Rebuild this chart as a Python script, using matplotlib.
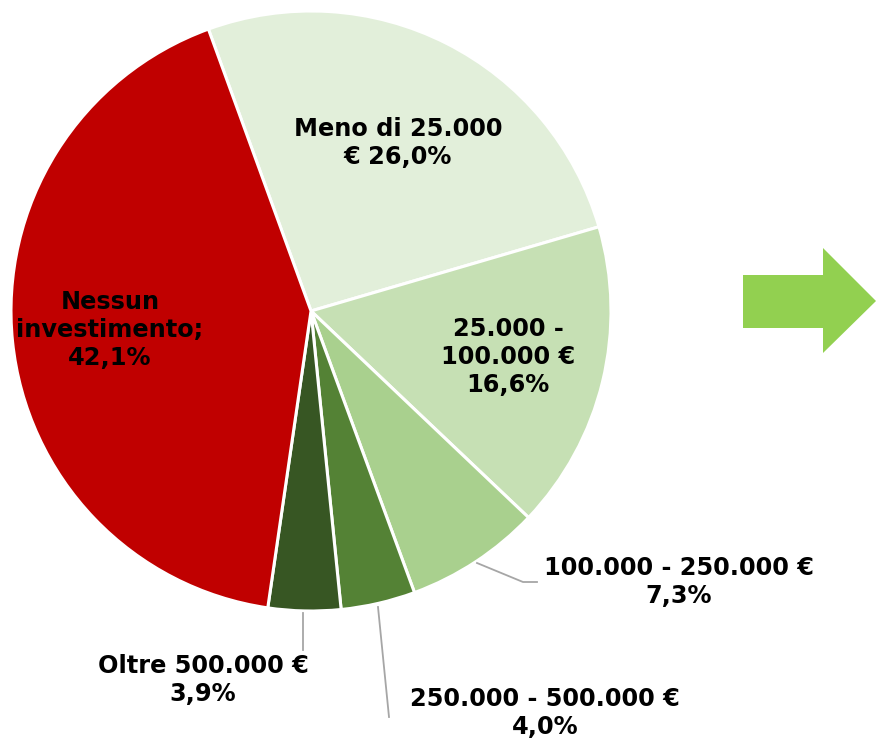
import matplotlib
matplotlib.use("Agg")
import matplotlib.pyplot as plt
from matplotlib.patches import Polygon
from matplotlib.lines import Line2D

labels = ["Meno di 25.000\n€ 26,0%", "25.000 -\n100.000 €\n16,6%", "100.000 - 250.000 €\n7,3%",
          "250.000 - 500.000 €\n4,0%", "Oltre 500.000 €\n3,9%", "Nessun\ninvestimento;\n42,1%"]
values = [26.0, 16.6, 7.3, 4.0, 3.9, 42.1]
colors = ["#E2EFDA", "#C6E0B4", "#A9D08E", "#548235", "#375623", "#C00000"]

W, H = 877, 739
fig = plt.figure(figsize=(W / 100, H / 100), dpi=100)

def fx(x):
    return x / W

def fy(y):
    return 1 - y / H

cx, cy, r = 311, 311, 300
ax = fig.add_axes([fx(cx - r), fy(cy + r), 2 * r / W, 2 * r / H])
ax.pie(values, colors=colors, startangle=110, counterclock=False, radius=1,
       wedgeprops=dict(edgecolor="white", linewidth=2.2))
ax.set_xlim(-1, 1)
ax.set_ylim(-1, 1)
ax.set_aspect("auto")
ax.axis("off")

label_pos = [(398, 143), (508, 357), (679, 582), (545, 713), (203, 680), (110, 330)]
for lab, (x, y) in zip(labels, label_pos):
    fig.text(fx(x), fy(y), lab, ha="center", va="center", fontsize=17.3,
             fontweight="bold", color="black", linespacing=1.22, family="DejaVu Sans")

lc = "#A6A6A6"
leaders = [
    [(477, 563), (523, 582), (537, 582)],
    [(378, 607), (389, 717)],
    [(303, 613), (303, 650)],
]
for pts in leaders:
    fig.add_artist(Line2D([fx(p[0]) for p in pts], [fy(p[1]) for p in pts],
                          color=lc, linewidth=1.3, transform=fig.transFigure))

arrow = [(743, 275), (823, 275), (823, 248), (876, 301), (823, 353), (823, 328), (743, 328)]
fig.add_artist(Polygon([(fx(x), fy(y)) for x, y in arrow], closed=True,
                       facecolor="#92D050", edgecolor="none", transform=fig.transFigure))

fig.savefig("out.png", dpi=100, facecolor="white")
